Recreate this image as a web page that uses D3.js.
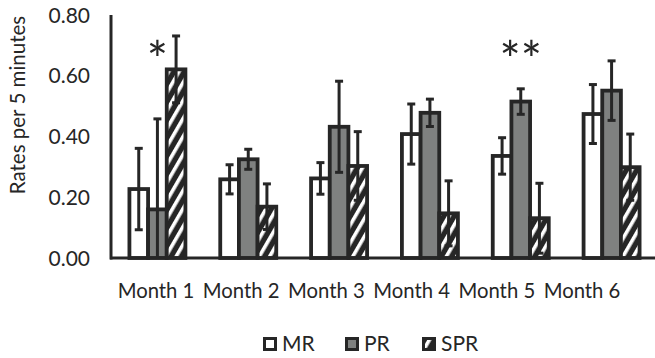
<!DOCTYPE html>
<html>
<head>
<meta charset="utf-8">
<script src="https://cdn.jsdelivr.net/npm/d3@7"></script>
<style>
  html, body { margin: 0; padding: 0; background: #fff; }
  svg { display: block; }
  text { font-family: Lato, "Open Sans", sans-serif; fill: #262626; }
</style>
</head>
<body>
<svg id="chart" width="655" height="358"></svg>
<script>
// ---- data ----
const categories = ["Month 1", "Month 2", "Month 3", "Month 4", "Month 5", "Month 6"];
const seriesNames = ["MR", "PR", "SPR"];
const mrValues  = [0.227, 0.259, 0.262, 0.408, 0.336, 0.474];
const mrErrors  = [0.134, 0.048, 0.052, 0.099, 0.060, 0.097];
const prValues  = [0.160, 0.325, 0.432, 0.478, 0.515, 0.551];
const prErrors  = [0.298, 0.033, 0.150, 0.045, 0.042, 0.098];
const sprValues = [0.621, 0.169, 0.303, 0.147, 0.131, 0.299];
const sprErrors = [0.110, 0.075, 0.113, 0.107, 0.115, 0.109];
const yTicks = [0, 0.2, 0.4, 0.6, 0.8];
const yTitle = "Rates per 5 minutes";
const annotations = [
  { category: "Month 1", series: "PR", text: "*" },
  { category: "Month 5", series: "PR", text: "**" }
];

const values = { MR: mrValues, PR: prValues, SPR: sprValues };
const errors = { MR: mrErrors, PR: prErrors, SPR: sprErrors };

const dark = "#262626";
const gray = "#7f8180";

const svg = d3.select("#chart");
const defs = svg.append("defs");
const pat = defs.append("pattern")
  .attr("id", "hatch")
  .attr("patternUnits", "userSpaceOnUse")
  .attr("width", 9).attr("height", 9)
  .attr("patternTransform", "rotate(30)");
pat.append("rect").attr("width", 9).attr("height", 9).attr("fill", dark);
pat.append("rect").attr("x", 0).attr("width", 3.6).attr("height", 9).attr("fill", "#fff");

const fills = { MR: "#ffffff", PR: gray, SPR: "url(#hatch)" };

// ---- scales ----
const x = d3.scaleBand().domain(categories).range([112, 657]).padding(0);
const xLabel = d3.scaleBand().domain(categories).range([113.4, 624.6]).padding(0);
const groupW = 56;
const xs = d3.scaleBand().domain(seriesNames).range([0, groupW]).padding(0);
const y = d3.scaleLinear().domain([0, 0.8]).range([258, 15]);

// ---- bars ----
const rows = [];
categories.forEach((c, i) => seriesNames.forEach(s => rows.push({ c, s, v: values[s][i], e: errors[s][i] })));
const gx = c => x(c) + (x.bandwidth() - groupW) / 2;

svg.append("g").selectAll("rect").data(rows).join("rect")
  .attr("x", d => gx(d.c) + xs(d.s))
  .attr("y", d => y(d.v))
  .attr("width", xs.bandwidth())
  .attr("height", d => y(0) - y(d.v))
  .attr("fill", d => fills[d.s])
  .attr("stroke", dark)
  .attr("stroke-width", 3.8);

// ---- error bars ----
const eg = svg.append("g").attr("stroke", dark).attr("stroke-width", 3).attr("fill", "none");
const capW = 8;
rows.forEach(d => {
  const cx = gx(d.c) + xs(d.s) + xs.bandwidth() / 2;
  const hi = d.v + d.e, lo = Math.max(0, d.v - d.e);
  eg.append("line").attr("x1", cx).attr("x2", cx).attr("y1", y(hi)).attr("y2", y(lo));
  eg.append("line").attr("x1", cx - capW / 2).attr("x2", cx + capW / 2).attr("y1", y(hi)).attr("y2", y(hi));
  if (d.v - d.e > 0)
    eg.append("line").attr("x1", cx - capW / 2).attr("x2", cx + capW / 2).attr("y1", y(lo)).attr("y2", y(lo));
});

// ---- axes ----
svg.append("line").attr("x1", 111).attr("x2", 111).attr("y1", y(0.8)).attr("y2", y(0) + 1.5)
  .attr("stroke", dark).attr("stroke-width", 3);
svg.append("line").attr("x1", 110).attr("x2", 655).attr("y1", y(0)).attr("y2", y(0))
  .attr("stroke", dark).attr("stroke-width", 3);

svg.append("g").selectAll("text").data(yTicks).join("text")
  .attr("x", 90).attr("y", d => y(d))
  .attr("dy", "0.36em")
  .attr("text-anchor", "end")
  .attr("font-size", 21)
  .text(d => d3.format(".2f")(d));

svg.append("g").selectAll("text").data(categories).join("text")
  .attr("x", d => xLabel(d) + xLabel.bandwidth() / 2)
  .attr("y", 298)
  .attr("text-anchor", "middle")
  .attr("font-size", 20.3)
  .text(d => d);

svg.append("text")
  .attr("transform", "translate(25,105) rotate(-90)")
  .attr("text-anchor", "middle")
  .attr("font-size", 20.5)
  .text(yTitle);

// ---- annotations ----
svg.append("g").selectAll("text").data(annotations).join("text")
  .attr("x", d => gx(d.category) + xs(d.series) + xs.bandwidth() / 2)
  .attr("y", 78)
  .attr("text-anchor", "middle")
  .attr("font-family", "Liberation Serif, serif")
  .attr("font-size", 50)
  .text(d => d.text);

// ---- legend ----
const legendX = [263, 345, 422];
const lg = svg.append("g");
seriesNames.forEach((s, i) => {
  lg.append("rect").attr("x", legendX[i] + 1.5).attr("y", 338.5).attr("width", 11).attr("height", 11)
    .attr("fill", fills[s]).attr("stroke", dark).attr("stroke-width", 3);
  lg.append("text").attr("x", legendX[i] + 19).attr("y", 351)
    .attr("font-size", 21).text(s);
});
</script>
</body>
</html>
